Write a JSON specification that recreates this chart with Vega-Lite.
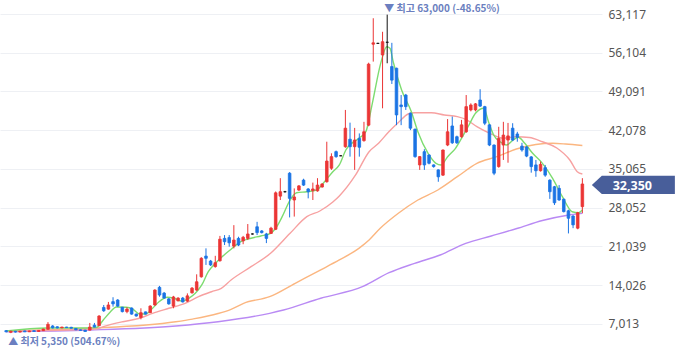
{
"$schema":"https://vega.github.io/schema/vega-lite/v6.json",
"width":602,"height":358,"padding":0,"background":"white",
"config":{"view":{"stroke":null}},
"datasets":{
"candles":[
{"i":0,"o":5800,"h":5900,"l":5500,"c":5600},{"i":1,"o":5500,"h":5800,"l":5350,"c":5700},{"i":2,"o":5700,"h":5750,"l":5450,"c":5550},{"i":3,"o":5550,"h":5750,"l":5500,"c":5700},{"i":4,"o":5750,"h":5800,"l":5550,"c":5600},{"i":5,"o":5600,"h":5800,"l":5550,"c":5750},{"i":6,"o":5800,"h":5850,"l":5600,"c":5650},{"i":7,"o":5650,"h":5900,"l":5600,"c":5850},{"i":8,"o":5800,"h":6150,"l":5750,"c":6100},{"i":9,"o":6050,"h":7350,"l":6000,"c":6950},
{"i":10,"o":6650,"h":6800,"l":6200,"c":6300},{"i":11,"o":6500,"h":6600,"l":6200,"c":6300},{"i":12,"o":6300,"h":6500,"l":6250,"c":6450},{"i":13,"o":6450,"h":6500,"l":6300,"c":6350},{"i":14,"o":6400,"h":6500,"l":6200,"c":6250},{"i":15,"o":6200,"h":6250,"l":5900,"c":5950},{"i":16,"o":5950,"h":6000,"l":5800,"c":5850},{"i":17,"o":5900,"h":5950,"l":5600,"c":5650},{"i":18,"o":5900,"h":7200,"l":5850,"c":6450},{"i":19,"o":6800,"h":7200,"l":6400,"c":6450},
{"i":20,"o":6700,"h":8600,"l":6650,"c":8450},{"i":21,"o":10000,"h":10450,"l":9200,"c":9400},{"i":22,"o":9700,"h":11000,"l":9600,"c":10450},{"i":23,"o":11050,"h":11850,"l":10150,"c":10650},{"i":24,"o":11350,"h":11500,"l":10100,"c":10250},{"i":25,"o":10050,"h":10100,"l":9100,"c":9250},{"i":26,"o":9250,"h":10050,"l":8950,"c":9700},{"i":27,"o":9900,"h":10000,"l":8700,"c":8800},{"i":28,"o":8800,"h":8900,"l":8350,"c":8450},{"i":29,"o":8200,"h":9850,"l":7850,"c":9050},
{"i":30,"o":9200,"h":9250,"l":8750,"c":8800},{"i":31,"o":9050,"h":10400,"l":9000,"c":10250},{"i":32,"o":10450,"h":13300,"l":10300,"c":13150},{"i":33,"o":13650,"h":13900,"l":11950,"c":12250},{"i":34,"o":12600,"h":12800,"l":11600,"c":11700},{"i":35,"o":11550,"h":11700,"l":10500,"c":10650},{"i":36,"o":10250,"h":12100,"l":9850,"c":11900},{"i":37,"o":11200,"h":11850,"l":11100,"c":11700},{"i":38,"o":11700,"h":11900,"l":10900,"c":11000},{"i":39,"o":11150,"h":12550,"l":11000,"c":12100},
{"i":40,"o":12650,"h":13700,"l":12500,"c":13500},{"i":41,"o":13150,"h":16000,"l":13000,"c":14650},{"i":42,"o":15550,"h":19100,"l":15400,"c":18900},{"i":43,"o":19300,"h":20700,"l":17700,"c":18900},{"i":44,"o":18400,"h":18600,"l":17500,"c":17700},{"i":45,"o":17400,"h":19350,"l":17200,"c":18100},{"i":46,"o":18450,"h":22950,"l":18300,"c":22350},{"i":47,"o":22500,"h":23100,"l":21300,"c":21900},{"i":48,"o":22650,"h":23100,"l":21000,"c":21700},{"i":49,"o":21100,"h":24900,"l":20700,"c":22200},
{"i":50,"o":22500,"h":22800,"l":21100,"c":21300},{"i":51,"o":22050,"h":22950,"l":21450,"c":22700},{"i":52,"o":22500,"h":25100,"l":22200,"c":23300},{"i":53,"o":23300,"h":23400,"l":23200,"c":23300},{"i":54,"o":24600,"h":25500,"l":23100,"c":23550},{"i":55,"o":23850,"h":24000,"l":23400,"c":23550},{"i":56,"o":23300,"h":23500,"l":21650,"c":22500},{"i":57,"o":23400,"h":24600,"l":23300,"c":24350},{"i":58,"o":24150,"h":31000,"l":24000,"c":30750},{"i":59,"o":30150,"h":33400,"l":29450,"c":30950},
{"i":60,"o":30950,"h":31100,"l":30800,"c":30950},{"i":61,"o":34300,"h":34500,"l":26300,"c":29750},{"i":62,"o":29450,"h":31550,"l":26450,"c":30000},{"i":63,"o":31250,"h":32150,"l":31100,"c":32000},{"i":64,"o":33050,"h":33300,"l":32000,"c":32150},{"i":65,"o":31450,"h":31600,"l":29750,"c":30950},{"i":66,"o":31150,"h":32600,"l":29450,"c":31450},{"i":67,"o":31100,"h":33400,"l":30950,"c":32150},{"i":68,"o":31800,"h":32500,"l":31700,"c":32350},{"i":69,"o":32750,"h":40000,"l":32600,"c":36500},
{"i":70,"o":35200,"h":37900,"l":34900,"c":37300},{"i":71,"o":38200,"h":38400,"l":37100,"c":37300},{"i":72,"o":37450,"h":37550,"l":37400,"c":37450},{"i":73,"o":39100,"h":45750,"l":38900,"c":42450},{"i":74,"o":40450,"h":43450,"l":37300,"c":39100},{"i":75,"o":39100,"h":42500,"l":34900,"c":40300},{"i":76,"o":40600,"h":41500,"l":37300,"c":39000},{"i":77,"o":40200,"h":43600,"l":40000,"c":41800},{"i":78,"o":43000,"h":54300,"l":42800,"c":54050},{"i":79,"o":57650,"h":62350,"l":54500,"c":57900},
{"i":80,"o":57800,"h":57900,"l":57700,"c":57800},{"i":81,"o":55700,"h":59900,"l":46050,"c":58100},{"i":82,"o":58000,"h":63000,"l":54200,"c":58000},{"i":83,"o":53600,"h":57900,"l":50450,"c":51150},{"i":84,"o":53300,"h":53400,"l":43000,"c":44850},{"i":85,"o":46650,"h":48450,"l":43000,"c":46350},{"i":86,"o":48450,"h":48650,"l":45750,"c":46350},{"i":87,"o":45150,"h":45300,"l":42100,"c":42450},{"i":88,"o":42250,"h":42400,"l":37100,"c":37300},{"i":89,"o":35800,"h":37400,"l":34900,"c":37300},
{"i":90,"o":38200,"h":38650,"l":34900,"c":35800},{"i":91,"o":37600,"h":37700,"l":35900,"c":36100},{"i":92,"o":35800,"h":35900,"l":35300,"c":35500},{"i":93,"o":34900,"h":35000,"l":32750,"c":33650},{"i":94,"o":33950,"h":38600,"l":33800,"c":38500},{"i":95,"o":39400,"h":44100,"l":39200,"c":41800},{"i":96,"o":42850,"h":44550,"l":39600,"c":39800},{"i":97,"o":40900,"h":41100,"l":39600,"c":39800},{"i":98,"o":40900,"h":43950,"l":40700,"c":43050},{"i":99,"o":41800,"h":48450,"l":41600,"c":46350},
{"i":100,"o":45750,"h":46950,"l":45500,"c":46650},{"i":101,"o":45750,"h":47000,"l":45500,"c":46850},{"i":102,"o":47550,"h":49500,"l":46300,"c":46450},{"i":103,"o":46350,"h":46500,"l":43000,"c":43350},{"i":104,"o":43050,"h":43200,"l":39200,"c":39400},{"i":105,"o":39400,"h":39500,"l":33950,"c":34300},{"i":106,"o":35500,"h":42700,"l":35300,"c":40600},{"i":107,"o":39400,"h":43600,"l":36700,"c":41200},{"i":108,"o":40300,"h":43400,"l":36200,"c":41050},{"i":109,"o":42450,"h":43350,"l":40100,"c":40300},
{"i":110,"o":41400,"h":41800,"l":40000,"c":40800},{"i":111,"o":39200,"h":39800,"l":38200,"c":38500},{"i":112,"o":39050,"h":39200,"l":37200,"c":37400},{"i":113,"o":37250,"h":37400,"l":34400,"c":35500},{"i":114,"o":35800,"h":36700,"l":33650,"c":34750},{"i":115,"o":34750,"h":36400,"l":34600,"c":35900},{"i":116,"o":35300,"h":35800,"l":33650,"c":33950},{"i":117,"o":33050,"h":33200,"l":29650,"c":30950},{"i":118,"o":31850,"h":32000,"l":28550,"c":28950},{"i":119,"o":31550,"h":32150,"l":29300,"c":29450},
{"i":120,"o":29600,"h":29700,"l":27200,"c":27350},{"i":121,"o":27500,"h":27700,"l":23400,"c":26150},{"i":122,"o":26550,"h":26700,"l":24350,"c":24950},{"i":123,"o":24350,"h":27300,"l":24150,"c":27150},{"i":124,"o":28250,"h":33400,"l":27050,"c":32350}
],
"ma":[
{"m":"ma120","i":0,"v":5610},{"m":"ma120","i":18.1,"v":5920},{"m":"ma120","i":36.5,"v":6650},{"m":"ma120","i":45.6,"v":7420},{"m":"ma120","i":56.7,"v":8940},{"m":"ma120","i":59.7,"v":9540},{"m":"ma120","i":67.7,"v":11660},{"m":"ma120","i":76.8,"v":13800},{"m":"ma120","i":82.4,"v":16290},{"m":"ma120","i":87.9,"v":17990},{"m":"ma120","i":93.4,"v":19500},{"m":"ma120","i":98.9,"v":21610},{"m":"ma120","i":104.4,"v":22940},{"m":"ma120","i":109.9,"v":24290},{"m":"ma120","i":115.4,"v":25740},{"m":"ma120","i":120.8,"v":26680},{"m":"ma120","i":124,"v":27050},
{"m":"ma60","i":0,"v":5740},{"m":"ma60","i":18.1,"v":6230},{"m":"ma60","i":36.5,"v":7420},{"m":"ma60","i":40.1,"v":7900},{"m":"ma60","i":45.6,"v":8900},{"m":"ma60","i":48.4,"v":9670},{"m":"ma60","i":51.1,"v":10750},{"m":"ma60","i":56.7,"v":11950},{"m":"ma60","i":62.2,"v":14380},{"m":"ma60","i":67.7,"v":16800},{"m":"ma60","i":71.7,"v":18600},{"m":"ma60","i":75.9,"v":20700},{"m":"ma60","i":78.1,"v":22210},{"m":"ma60","i":80.5,"v":24330},{"m":"ma60","i":84.4,"v":27050},{"m":"ma60","i":88.6,"v":29450},{"m":"ma60","i":92.9,"v":31260},{"m":"ma60","i":97.1,"v":33670},{"m":"ma60","i":101.3,"v":36090},{"m":"ma60","i":105.6,"v":37290},{"m":"ma60","i":109.8,"v":38680},{"m":"ma60","i":114,"v":39500},{"m":"ma60","i":117.6,"v":39710},{"m":"ma60","i":120.4,"v":39590},{"m":"ma60","i":124,"v":39320},
{"m":"ma20","i":0,"v":5740},{"m":"ma20","i":19.4,"v":6100},{"m":"ma20","i":20.9,"v":6520},{"m":"ma20","i":25.1,"v":7420},{"m":"ma20","i":28.7,"v":8040},{"m":"ma20","i":31.5,"v":8940},{"m":"ma20","i":35,"v":9850},{"m":"ma20","i":38.5,"v":10750},{"m":"ma20","i":41.4,"v":11950},{"m":"ma20","i":44.2,"v":12850},{"m":"ma20","i":46.3,"v":13470},{"m":"ma20","i":48.4,"v":14970},{"m":"ma20","i":52.7,"v":17380},{"m":"ma20","i":56.9,"v":19800},{"m":"ma20","i":61.1,"v":23420},{"m":"ma20","i":64.7,"v":26430},{"m":"ma20","i":67.5,"v":27460},{"m":"ma20","i":70.3,"v":29090},{"m":"ma20","i":71.7,"v":30180},{"m":"ma20","i":75.2,"v":33980},{"m":"ma20","i":78.1,"v":38190},{"m":"ma20","i":80.2,"v":39770},{"m":"ma20","i":82.3,"v":41760},{"m":"ma20","i":84.4,"v":43480},{"m":"ma20","i":86.5,"v":45020},{"m":"ma20","i":87.9,"v":45250},{"m":"ma20","i":91.5,"v":45250},{"m":"ma20","i":94.3,"v":44840},{"m":"ma20","i":97.1,"v":44530},{"m":"ma20","i":99.2,"v":43930},{"m":"ma20","i":101.3,"v":42720},{"m":"ma20","i":104.1,"v":41520},{"m":"ma20","i":107,"v":40620},{"m":"ma20","i":109.8,"v":40890},{"m":"ma20","i":112.6,"v":40760},{"m":"ma20","i":115.4,"v":39990},{"m":"ma20","i":118.5,"v":38860},{"m":"ma20","i":121.3,"v":36690},{"m":"ma20","i":122.9,"v":34570},{"m":"ma20","i":124,"v":34160},
{"m":"ma5","i":0,"v":5740},{"m":"ma5","i":8.8,"v":6280},{"m":"ma5","i":17.3,"v":6280},{"m":"ma5","i":19.4,"v":6350},{"m":"ma5","i":20.9,"v":7730},{"m":"ma5","i":22.4,"v":9180},{"m":"ma5","i":23.7,"v":10080},{"m":"ma5","i":25.8,"v":10030},{"m":"ma5","i":27.3,"v":9670},{"m":"ma5","i":28.7,"v":8820},{"m":"ma5","i":30,"v":8820},{"m":"ma5","i":31.5,"v":9850},{"m":"ma5","i":32.9,"v":11040},{"m":"ma5","i":34.7,"v":11840},{"m":"ma5","i":36.1,"v":11660},{"m":"ma5","i":37.8,"v":11170},{"m":"ma5","i":39.3,"v":11660},{"m":"ma5","i":40.7,"v":12560},{"m":"ma5","i":42.1,"v":14070},{"m":"ma5","i":43.5,"v":16470},{"m":"ma5","i":44.9,"v":17870},{"m":"ma5","i":46.3,"v":19040},{"m":"ma5","i":48.4,"v":20530},{"m":"ma5","i":50.5,"v":21900},{"m":"ma5","i":52.7,"v":22520},{"m":"ma5","i":54.8,"v":22940},{"m":"ma5","i":56.9,"v":23420},{"m":"ma5","i":58,"v":24330},{"m":"ma5","i":59.4,"v":26430},{"m":"ma5","i":61.1,"v":29450},{"m":"ma5","i":62.5,"v":30770},{"m":"ma5","i":64.7,"v":30950},{"m":"ma5","i":66.8,"v":31260},{"m":"ma5","i":68.5,"v":32760},{"m":"ma5","i":70.3,"v":34570},{"m":"ma5","i":71.7,"v":35790},{"m":"ma5","i":73.1,"v":38500},{"m":"ma5","i":75.9,"v":40620},{"m":"ma5","i":77.4,"v":41810},{"m":"ma5","i":78.8,"v":46950},{"m":"ma5","i":80.6,"v":54190},{"m":"ma5","i":81.9,"v":57200},{"m":"ma5","i":82.6,"v":56910},{"m":"ma5","i":83.3,"v":54430},{"m":"ma5","i":85.1,"v":49360},{"m":"ma5","i":87.2,"v":45430},{"m":"ma5","i":88.6,"v":41810},{"m":"ma5","i":90.8,"v":37900},{"m":"ma5","i":92.5,"v":36090},{"m":"ma5","i":93.6,"v":35790},{"m":"ma5","i":95,"v":37290},{"m":"ma5","i":96.7,"v":38810},{"m":"ma5","i":98.2,"v":40910},{"m":"ma5","i":99.6,"v":43030},{"m":"ma5","i":101,"v":45140},{"m":"ma5","i":102.8,"v":46050},{"m":"ma5","i":103.8,"v":43620},{"m":"ma5","i":104.9,"v":41220},{"m":"ma5","i":106.3,"v":40000},{"m":"ma5","i":107.7,"v":39410},{"m":"ma5","i":109.1,"v":40310},{"m":"ma5","i":110.2,"v":40800},{"m":"ma5","i":111.6,"v":39710},{"m":"ma5","i":113.3,"v":37900},{"m":"ma5","i":115.4,"v":36090},{"m":"ma5","i":117.6,"v":33380},{"m":"ma5","i":119.7,"v":30050},{"m":"ma5","i":121.8,"v":27330},{"m":"ma5","i":123.2,"v":27150},{"m":"ma5","i":124,"v":27640}
],
"hi":[{"i":82,"v":63000,"t":"▼ 최고 63,000 (-48.65%)"}],
"lo":[{"i":0,"v":5350,"t":"▲ 최저 5,350 (504.67%)"}]
},
"encoding":{"x":{"field":"i","type":"quantitative","scale":{"domain":[-0.25,127.15],"nice":false,"zero":false},"axis":null}},
"layer":[
{"data":{"name":"ma"},"mark":{"type":"line","strokeWidth":1.4,"interpolate":"monotone"},
 "encoding":{"y":{"field":"v","type":"quantitative","scale":{"domain":[853,65651],"nice":false,"zero":false},"axis":{"orient":"right","values":[7013,14026,21039,28052,35065,42078,49091,56104,63117],"format":",.0f","grid":true,"gridColor":"#eef0f4","domain":false,"ticks":false,"labelPadding":6,"labelFont":"Noto Sans","labelFontSize":12,"labelColor":"#555555","title":null}},
  "color":{"field":"m","type":"nominal","scale":{"domain":["ma5","ma20","ma60","ma120"],"range":["#7ddc70","#f7a1a1","#fbb680","#b98af4"]},"legend":null},
  "detail":{"field":"m"}}},
{"data":{"name":"candles"},"mark":{"type":"rule","strokeWidth":1},
 "encoding":{"y":{"field":"l","type":"quantitative","scale":{"domain":[853,65651],"nice":false,"zero":false},"axis":{"orient":"right","values":[7013,14026,21039,28052,35065,42078,49091,56104,63117],"format":",.0f","grid":true,"gridColor":"#eef0f4","domain":false,"ticks":false,"labelPadding":6,"labelFont":"Noto Sans","labelFontSize":12,"labelColor":"#555555","title":null}},"y2":{"field":"h"},
  "color":{"condition":[{"test":"datum.c > datum.o","value":"#eb3535"},{"test":"datum.c < datum.o","value":"#1b74e4"}],"value":"#111111"}}},
{"data":{"name":"candles"},"mark":{"type":"bar","width":2.6,"strokeWidth":0.8},
 "encoding":{"y":{"field":"o","type":"quantitative","scale":{"domain":[853,65651],"nice":false,"zero":false},"axis":{"orient":"right","values":[7013,14026,21039,28052,35065,42078,49091,56104,63117],"format":",.0f","grid":true,"gridColor":"#eef0f4","domain":false,"ticks":false,"labelPadding":6,"labelFont":"Noto Sans","labelFontSize":12,"labelColor":"#555555","title":null}},"y2":{"field":"c"},
  "color":{"condition":[{"test":"datum.c > datum.o","value":"#eb3535"},{"test":"datum.c < datum.o","value":"#1b74e4"}],"value":"#111111"},
  "stroke":{"condition":[{"test":"datum.c > datum.o","value":"#eb3535"},{"test":"datum.c < datum.o","value":"#1b74e4"}],"value":"#111111"}}},
{"data":{"name":"hi"},"mark":{"type":"text","align":"left","baseline":"middle","dx":-3,"dy":-6,"font":"Noto Sans CJK KR","fontSize":10,"fontWeight":"bold","color":"#6b7fc0"},
 "encoding":{"y":{"field":"v","type":"quantitative","scale":{"domain":[853,65651],"nice":false,"zero":false},"axis":{"orient":"right","values":[7013,14026,21039,28052,35065,42078,49091,56104,63117],"format":",.0f","grid":true,"gridColor":"#eef0f4","domain":false,"ticks":false,"labelPadding":6,"labelFont":"Noto Sans","labelFontSize":12,"labelColor":"#555555","title":null}},"text":{"field":"t"}}},
{"data":{"name":"lo"},"mark":{"type":"text","align":"left","baseline":"middle","dx":2,"dy":9,"font":"Noto Sans CJK KR","fontSize":10,"fontWeight":"bold","color":"#6b7fc0"},
 "encoding":{"y":{"field":"v","type":"quantitative","scale":{"domain":[853,65651],"nice":false,"zero":false},"axis":{"orient":"right","values":[7013,14026,21039,28052,35065,42078,49091,56104,63117],"format":",.0f","grid":true,"gridColor":"#eef0f4","domain":false,"ticks":false,"labelPadding":6,"labelFont":"Noto Sans","labelFontSize":12,"labelColor":"#555555","title":null}},"text":{"field":"t"}}},
{"data":{"name":"candles"},"transform":[{"filter":"datum.i == 124"}],"mark":{"type":"point","shape":"M-1,0L-0.76,-0.22L1,-0.22L1,0.22L-0.76,0.22Z","size":6889,"filled":true,"color":"#485e9a","opacity":1,"xOffset":51,"yOffset":1},
 "encoding":{"y":{"field":"c","type":"quantitative","scale":{"domain":[853,65651],"nice":false,"zero":false},"axis":{"orient":"right","values":[7013,14026,21039,28052,35065,42078,49091,56104,63117],"format":",.0f","grid":true,"gridColor":"#eef0f4","domain":false,"ticks":false,"labelPadding":6,"labelFont":"Noto Sans","labelFontSize":12,"labelColor":"#555555","title":null}}}},
{"data":{"name":"candles"},"transform":[{"filter":"datum.i == 124"}],"mark":{"type":"text","align":"center","baseline":"middle","dx":50,"dy":2,"font":"Noto Sans","fontSize":12.5,"fontWeight":"bold","color":"white"},
 "encoding":{"y":{"field":"c","type":"quantitative","scale":{"domain":[853,65651],"nice":false,"zero":false},"axis":{"orient":"right","values":[7013,14026,21039,28052,35065,42078,49091,56104,63117],"format":",.0f","grid":true,"gridColor":"#eef0f4","domain":false,"ticks":false,"labelPadding":6,"labelFont":"Noto Sans","labelFontSize":12,"labelColor":"#555555","title":null}},"text":{"field":"c","format":","}}}
]
}
